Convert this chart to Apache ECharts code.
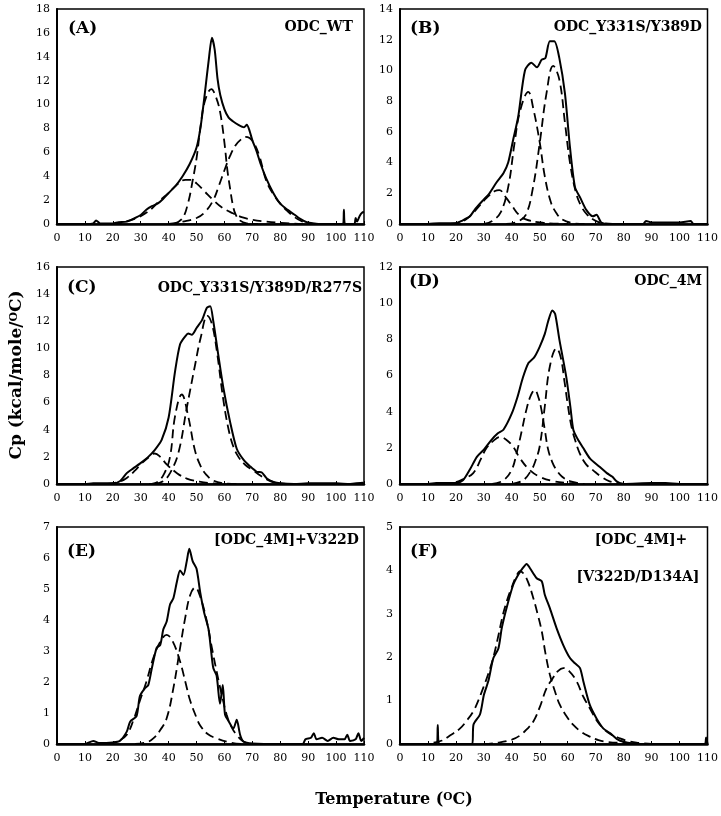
<!DOCTYPE html>
<html>
<head>
<meta charset="utf-8">
<script src="https://cdn.jsdelivr.net/npm/echarts@6/dist/echarts.min.js"></script>
<style>html,body{margin:0;padding:0;background:#fff}#c{width:721px;height:816px}</style>
</head>
<body>
<div id="c"></div>
<script>
// ---- data (temperature °C, Cp kcal/mole/°C) ----
const xTicks = [0,10,20,30,40,50,60,70,80,90,100,110];
const panelLetters = ['(A)','(B)','(C)','(D)','(E)','(F)'];
const panelNames = ['ODC_WT','ODC_Y331S/Y389D','ODC_Y331S/Y389D/R277S','ODC_4M','[ODC_4M]+V322D','[ODC_4M]+\n[V322D/D134A]'];
const yMax = [18,14,16,12,7,5];
const yStep = [2,2,2,2,1,1];

const A_total = [[0,0],[10,0],[13,0.05],[14,0.3],[15.5,0.05],[20,0.05],[22,0.15],[25,0.2],[27.5,0.45],[30,0.75],[32,1.2],[34,1.5],[36,1.7],[38,2.1],[40,2.6],[42.5,3.2],[45,4.0],[47.5,5.0],[50,6.4],[51.5,8.2],[53,11],[54.5,14],[55.5,15.6],[56.5,14.6],[57.5,12.2],[58.5,10.8],[60,9.6],[61.5,8.9],[63,8.6],[65,8.3],[67,8.1],[68,8.3],[69,7.8],[70,7.0],[71.5,6.1],[73,5.0],[75,3.8],[77.5,2.6],[80,1.7],[82.5,1.2],[85,0.8],[87,0.45],[89.5,0.15],[92,0.05],[95,0],[102.5,0],[102.8,1.2],[103.2,0],[106.5,0],[107,0.5],[107.5,0.2],[108.5,0.7],[109.3,0.95],[110,1.0]];
const A_c1 = [[20,0],[23,0.1],[26,0.3],[29,0.55],[31,0.8],[34,1.3],[37,2.0],[40,2.6],[43,3.3],[46,3.7],[48,3.7],[50,3.4],[53,2.7],[56,2.0],[59,1.4],[63,0.9],[66.5,0.55],[70,0.35],[75,0.2],[80,0.1],[85,0.03],[90,0]];
const A_c2 = [[42,0],[45,0.5],[47,1.8],[48.5,3.5],[50,5.5],[51.5,8.3],[53,10.3],[55.3,11.3],[57,10.6],[58.5,9.3],[60,6.8],[61,4.6],[62,3.0],[63,1.6],[64,0.8],[65.5,0.3],[68,0.05],[72,0]];
const A_c3 = [[40,0],[45,0.2],[50,0.5],[53,1.0],[56,2.0],[58,3.2],[60,4.5],[62,5.7],[64,6.6],[66,7.1],[67.5,7.3],[69,7.2],[70.5,6.8],[72.5,5.7],[75,3.6],[77.5,2.5],[80,1.7],[82.5,1.1],[85,0.6],[87.5,0.25],[90,0.08],[95,0]];

const B_total = [[0,0],[10,0],[14,0.05],[20,0.05],[22,0.2],[25,0.5],[27,1.0],[30,1.6],[32,2.0],[34.5,2.7],[37,3.3],[38.7,4.0],[40.5,5.5],[42.3,7.0],[44.7,10.0],[47,10.5],[49,10.2],[50.7,10.7],[52,10.8],[53.6,11.9],[55.2,11.9],[57,10.8],[59,8.5],[60.8,5.0],[62.6,2.4],[64.5,1.7],[66.7,0.9],[69,0.5],[70.3,0.6],[72,0.1],[75,0],[87,0],[88,0.2],[90,0.1],[95,0.1],[100,0.1],[104,0.2],[105,0],[110,0]];
const B_c1 = [[18,0],[22,0.15],[25,0.5],[28,1.1],[31,1.7],[34,2.15],[35.5,2.2],[38,1.7],[40,1.2],[42.5,0.6],[45,0.3],[50,0.1],[55,0.03],[60,0]];
const B_c2 = [[30,0],[33,0.2],[36,0.75],[38.7,2.4],[41,5.3],[43,7.4],[45.9,8.6],[47.7,7.5],[50,5.3],[51.8,3.1],[54,1.4],[56,0.7],[58,0.3],[62,0.05],[66,0]];
const B_c3 = [[38,0],[42,0.15],[45,0.6],[47.5,2.3],[50,5.3],[52.4,8.5],[54.8,10.3],[57,9.4],[59,6.6],[60.8,4.0],[63,2.0],[65,1.1],[67,0.6],[70,0.2],[73,0.05],[76,0]];

const C_total = [[0,0],[10,0],[13,0.05],[20,0.05],[22.5,0.2],[25,0.8],[27.3,1.15],[29.7,1.5],[32.7,2.0],[35,2.5],[37.5,3.25],[40,4.9],[42.3,8.3],[44.1,10.3],[46,10.9],[47,11.1],[48.3,11.0],[50,11.5],[52,12.1],[53.7,13.0],[54.9,13.1],[56,12.0],[57.8,9.5],[59.6,7.1],[62,4.6],[64.4,2.6],[66.8,1.8],[69.2,1.3],[71.6,0.9],[73.4,0.85],[75.2,0.4],[77.6,0.15],[80,0.05],[85,0],[90,0.05],[95,0.05],[100,0.05],[105,0],[109.5,0.1],[110,0]];
const C_c1 = [[18,0],[22,0.15],[25,0.45],[28,1.0],[30,1.45],[33,2.0],[35,2.25],[37,2.0],[39.3,1.45],[43,0.8],[46.5,0.4],[51,0.17],[56,0.05],[62,0]];
const C_c2 = [[33,0],[36,0.15],[38.5,0.8],[40.5,2.0],[42.3,5.0],[44.7,6.6],[47,5.0],[49.4,2.5],[51.5,1.3],[53.6,0.66],[56,0.25],[60,0.05],[65,0]];
const C_c3 = [[35,0],[38,0.2],[40.5,0.8],[43.5,2.3],[46.4,5.5],[49.4,8.7],[51.5,10.8],[53.9,12.4],[55.5,11.8],[57.2,9.9],[59.6,6.2],[61.5,4.0],[63.2,2.75],[65,2.0],[67.5,1.4],[70.3,1.0],[73,0.6],[75,0.35],[78,0.1],[82,0]];

const D_total = [[0,0],[10,0],[13,0.05],[20,0.05],[22.5,0.2],[25,0.8],[27.5,1.5],[30,1.9],[32.5,2.4],[35,2.8],[37,3.0],[40,3.9],[42,4.8],[44,5.9],[46,6.7],[48,7.0],[50,7.6],[51.8,8.3],[53,9.0],[54.5,9.6],[55.5,9.4],[57,8.0],[59.5,5.9],[61,4.2],[62,3.0],[63.5,2.5],[65.5,2.0],[68,1.4],[71.4,0.95],[74,0.6],[76,0.4],[77.5,0.15],[80,0],[90,0.05],[95,0.05],[100,0],[110,0]];
const D_c1 = [[15,0],[20,0.1],[23,0.3],[26.2,0.6],[29,1.4],[31,2.0],[33.5,2.4],[35.7,2.6],[38,2.45],[40.5,2.05],[43,1.4],[46.4,0.77],[50,0.4],[55,0.15],[60,0.05],[65,0]];
const D_c2 = [[33,0],[37,0.2],[40,0.8],[41.7,1.7],[43.5,2.9],[45.2,4.1],[46.8,4.9],[48.2,5.2],[49.5,4.8],[50.6,4.1],[51.8,3.0],[53,1.9],[54.5,1.2],[56,0.77],[58,0.4],[61,0.15],[66,0]];
const D_c3 = [[40,0],[44,0.2],[47,0.77],[48.5,1.3],[50,2.1],[51.8,4.3],[53.6,6.5],[56,7.5],[57.5,7.0],[58.9,5.6],[60,4.4],[61.3,3.2],[62.7,2.4],[64.3,1.7],[66.5,1.1],[69,0.77],[72,0.4],[75,0.15],[80,0]];

const E_total = [[0,0],[10,0],[13,0.1],[15,0.03],[20,0.05],[22.5,0.1],[25,0.4],[26.2,0.72],[28.5,0.9],[29.7,1.55],[31.5,1.8],[32.7,1.9],[34,2.45],[35.7,3.1],[37,3.2],[38.1,3.7],[39.3,3.95],[40.5,4.5],[41.7,4.7],[43,5.25],[44.1,5.6],[45.3,5.45],[46.5,5.9],[47.4,6.3],[48.6,5.9],[50,5.65],[51.3,4.9],[52.7,4.25],[54.3,3.7],[55.1,3.1],[56,2.45],[57.2,2.2],[58.4,1.3],[59.4,1.9],[60.2,0.95],[61.4,0.75],[63.2,0.5],[64.4,0.78],[65.6,0.3],[66.8,0.08],[70,0.02],[80,0],[88,0],[89,0.15],[91,0.2],[92,0.35],[93,0.15],[95,0.2],[97,0.1],[99,0.2],[101,0.15],[103,0.15],[104,0.3],[105,0.1],[107,0.15],[108,0.35],[109,0.1],[110,0.2]];
const E_c1 = [[18,0],[22,0.1],[25,0.3],[27.5,0.8],[29.7,1.4],[32,2.0],[34.5,2.77],[37,3.3],[39.3,3.52],[41.5,3.3],[44.1,2.66],[46,2.0],[47.7,1.4],[50,0.85],[51.3,0.6],[54,0.32],[57.2,0.18],[62,0.05],[66,0]];
const E_c2 = [[28,0],[32,0.05],[34.5,0.18],[37,0.45],[39.3,0.83],[41.7,1.8],[44.1,3.1],[46,4.1],[47.7,4.8],[49.5,5.05],[51.5,4.7],[53.7,3.95],[55.5,3.1],[57.2,2.34],[59,1.6],[60.8,0.94],[62.5,0.55],[64.4,0.29],[66.8,0.08],[70,0]];

const F_total = [[0,0],[10,0],[13.2,0],[13.5,0.44],[14,0],[20,0],[25.8,0],[26.3,0.45],[28.6,0.68],[30,1.13],[31.6,1.45],[33.4,1.98],[35.2,2.2],[36.4,2.67],[38.1,3.13],[40.5,3.67],[42.3,3.9],[43.9,4.05],[45.3,4.15],[46.5,4.05],[48.9,3.82],[50.7,3.75],[51.8,3.44],[53.6,3.13],[56,2.67],[58.4,2.28],[60.8,1.98],[62.6,1.86],[64.4,1.75],[65.6,1.44],[67.9,0.9],[70.3,0.59],[72.7,0.36],[75.1,0.25],[77.5,0.12],[80,0.05],[85,0],[109,0],[109.5,0.15],[110,0]];
const F_c1 = [[12,0.03],[15,0.08],[18,0.2],[21.5,0.36],[24,0.55],[26.2,0.75],[28,1.0],[29.8,1.3],[31.5,1.6],[33.4,2.0],[35.2,2.5],[36.9,3.0],[38.5,3.35],[39.9,3.6],[41.5,3.85],[43,3.98],[44.5,3.9],[46,3.7],[47.7,3.36],[49.2,3.0],[50.7,2.6],[52,2.1],[53.6,1.6],[55.5,1.2],[57.2,0.9],[60,0.6],[62,0.44],[65,0.27],[67.9,0.17],[71,0.09],[74,0.05],[80,0.02],[85,0]];
const F_c2 = [[30,0],[35,0.03],[40,0.1],[43,0.2],[45.5,0.35],[47.7,0.52],[50,0.85],[52.4,1.28],[54.5,1.5],[56.5,1.68],[58.4,1.75],[60.5,1.68],[63.2,1.44],[65.5,1.1],[67.9,0.82],[70.3,0.55],[72.7,0.36],[75.5,0.22],[78.7,0.13],[81.5,0.07],[84.6,0.03],[90,0]];

const totals = [A_total,B_total,C_total,D_total,E_total,F_total];
const components = [[A_c1,A_c2,A_c3],[B_c1,B_c2,B_c3],[C_c1,C_c2,C_c3],[D_c1,D_c2,D_c3],[E_c1,E_c2],[F_c1,F_c2]];

// ---- layout ----
const grids = [
  {left:57, top:9, width:307, height:215},
  {left:400, top:9, width:308, height:215},
  {left:57, top:267, width:307, height:217},
  {left:400, top:267, width:308, height:217},
  {left:57, top:527, width:307, height:217},
  {left:400, top:527, width:308, height:217}
];
const FF = 'DejaVu Serif';
const chart = echarts.init(document.getElementById('c'), null, {renderer:'canvas'});
const xAxis = [], yAxis = [], series = [];
grids.forEach((g,i) => {
  Object.assign(g, {show:true, borderColor:'#000', borderWidth:1.5, backgroundColor:'transparent'});
  xAxis.push({type:'value', gridIndex:i, min:xTicks[0], max:xTicks[xTicks.length-1], interval:10,
    axisLine:{show:true, onZero:false, lineStyle:{color:'#000', width:2.5}},
    axisTick:{show:true, inside:true, length:3, lineStyle:{color:'#000', width:1}},
    axisLabel:{color:'#000', fontFamily:FF, fontSize:11, margin:9},
    splitLine:{show:false}});
  yAxis.push({type:'value', gridIndex:i, min:0, max:yMax[i], interval:yStep[i],
    axisLine:{show:true, lineStyle:{color:'#000', width:2}},
    axisTick:{show:false},
    axisLabel:{color:'#000', fontFamily:FF, fontSize:11, margin:7},
    splitLine:{show:false}});
  series.push({type:'line', xAxisIndex:i, yAxisIndex:i, data:totals[i], showSymbol:false, smooth:0.25,
    lineStyle:{color:'#000', width:2}, z:3, silent:true, animation:false});
  components[i].forEach(c => series.push({type:'line', xAxisIndex:i, yAxisIndex:i, data:c, showSymbol:false, smooth:0.4,
    lineStyle:{color:'#000', width:1.8, type:[9,5]}, z:2, silent:true, animation:false}));
});

const bold = (t, x, y, align, size) => ({type:'text', x:x, y:y, silent:true,
  style:{text:t, fill:'#000', font:'bold '+size+'px "'+FF+'"', textAlign:align, textVerticalAlign:'middle'}});
const labelPos = [
  {lx:68, ly:29, nx:353, ny:27},
  {lx:410, ly:29, nx:702, ny:27},
  {lx:67, ly:288, nx:362, ny:288},
  {lx:409, ly:282, nx:702, ny:281},
  {lx:67, ly:552, nx:359, ny:540},
  {lx:410, ly:552, nx:702, ny:540}
];
const graphic = [];
labelPos.forEach((p,i) => {
  graphic.push(bold(panelLetters[i], p.lx, p.ly, 'left', 17));
  if (i < 5) graphic.push(bold(panelNames[i], p.nx, p.ny, 'right', 14));
});
const fLines = panelNames[5].split('\n');
graphic.push(bold(fLines[0], 641, 540, 'center', 14));
graphic.push(bold(fLines[1], 638, 577, 'center', 14));

graphic.push({type:'text', x:17, y:375, rotation:Math.PI/2, silent:true,
  style:{text:'Cp (kcal/mole/{s|O}C)', fill:'#000', font:'bold 17px "'+FF+'"', textAlign:'center', textVerticalAlign:'middle',
    rich:{s:{fontSize:11, fontWeight:'bold', fontFamily:FF, verticalAlign:'top', fill:'#000'}}}});
graphic.push({type:'text', x:394, y:800, silent:true,
  style:{text:'Temperature ({s|O}C)', fill:'#000', font:'bold 16px "'+FF+'"', textAlign:'center', textVerticalAlign:'middle',
    rich:{s:{fontSize:10.5, fontWeight:'bold', fontFamily:FF, verticalAlign:'top', fill:'#000'}}}});

chart.setOption({animation:false, backgroundColor:'#fff', grid:grids, xAxis:xAxis, yAxis:yAxis, series:series, graphic:graphic});
</script>
</body>
</html>
